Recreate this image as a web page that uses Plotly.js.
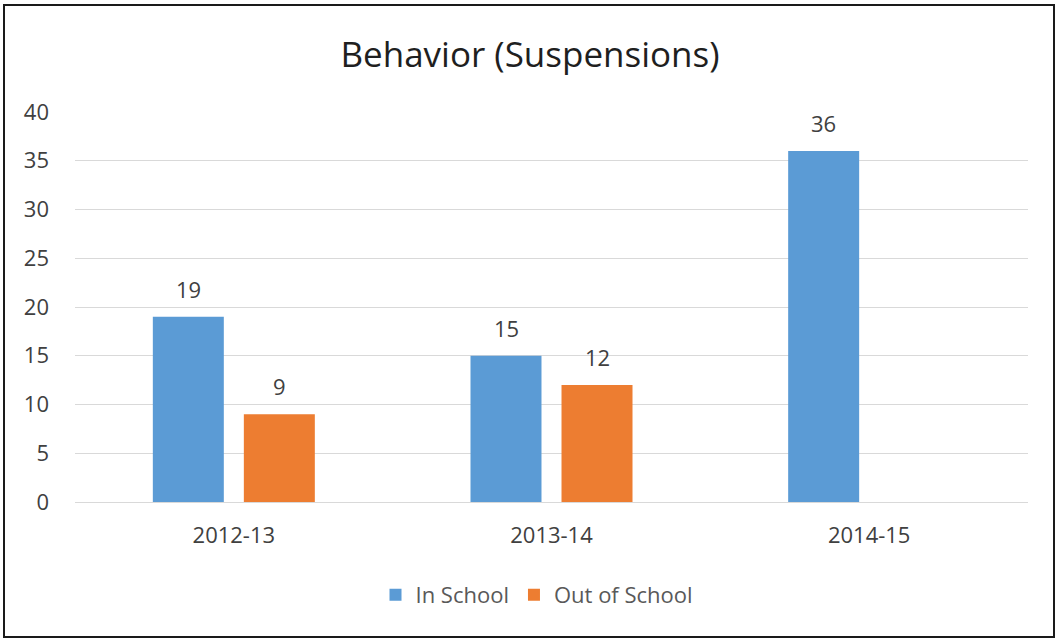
<!DOCTYPE html>
<html>
<head>
<meta charset="utf-8">
<script src="https://cdn.plot.ly/plotly-3.0.1.min.js"></script>
<style>
  html, body { margin: 0; padding: 0; background: #fff; }
  #wrap { position: relative; width: 1056px; height: 639px; }
  #chart { width: 1056px; height: 639px; }
  #frame { position: absolute; left: 3px; top: 4px; width: 1048px; height: 630px; border: 2px solid #1a1a1a; pointer-events: none; }
</style>
</head>
<body>
<div id="wrap">
  <div id="chart"></div>
  <div id="frame"></div>
</div>
<script>
const categories = ["2012-13", "2013-14", "2014-15"];
const inSchool = [19, 15, 36];
const outOfSchool = [9, 12, null];
const yTicks = [0, 5, 10, 15, 20, 25, 30, 35, 40];

const fontFam = "Open Sans, Liberation Sans, sans-serif";
const txtColor = "#404040";
const seriesList = [
  { name: "In School", values: inSchool, color: "#5B9BD5", shift: -45.5 },
  { name: "Out of School", values: outOfSchool, color: "#ED7D31", shift: 45.5 }
];

const traces = seriesList.map(s => ({
  type: "bar", name: s.name, x: categories, y: s.values,
  marker: { color: s.color }, hoverinfo: "none"
}));

const annotations = [];
seriesList.forEach(s => {
  s.values.forEach((v, i) => {
    if (v == null) return;
    annotations.push({
      x: categories[i], y: v, xref: "x", yref: "y",
      text: String(v), showarrow: false,
      xshift: s.shift, yshift: 28, yanchor: "middle", xanchor: "center",
      font: { family: fontFam, size: 22, color: txtColor }
    });
  });
});

const layout = {
  width: 1056, height: 639,
  margin: { l: 75, r: 28, t: 112, b: 137 },
  paper_bgcolor: "#fff", plot_bgcolor: "#fff",
  font: { family: fontFam, color: txtColor, size: 22 },
  title: {
    text: "Behavior (Suspensions)",
    font: { family: fontFam, size: 35, color: "#1f1f1f" },
    x: 530 / 1056, xref: "container", xanchor: "center",
    y: 1 - 55 / 639, yref: "container", yanchor: "middle"
  },
  barmode: "group", bargap: 0.427, bargroupgap: 0.22,
  xaxis: {
    type: "category", showgrid: false, zeroline: false, showline: false,
    ticks: "", ticklabelstandoff: 18,
    tickfont: { family: fontFam, size: 22, color: txtColor }
  },
  yaxis: {
    range: [0, 40], tickvals: yTicks, showgrid: true, gridcolor: "#d9d9d9", gridwidth: 1,
    zeroline: true, zerolinecolor: "#d9d9d9", zerolinewidth: 1, showline: false,
    ticks: "", ticklabelstandoff: 25,
    tickfont: { family: fontFam, size: 22, color: txtColor }
  },
  annotations: annotations,
  showlegend: true,
  legend: {
    orientation: "h", x: (537 - 75) / 953, xanchor: "center", y: (502 - 595) / 390, yanchor: "middle",
    font: { family: fontFam, size: 22, color: "#595959" }, itemwidth: 30
  }
};

Plotly.newPlot("chart", traces, layout, { displayModeBar: false, staticPlot: true });
</script>
</body>
</html>
